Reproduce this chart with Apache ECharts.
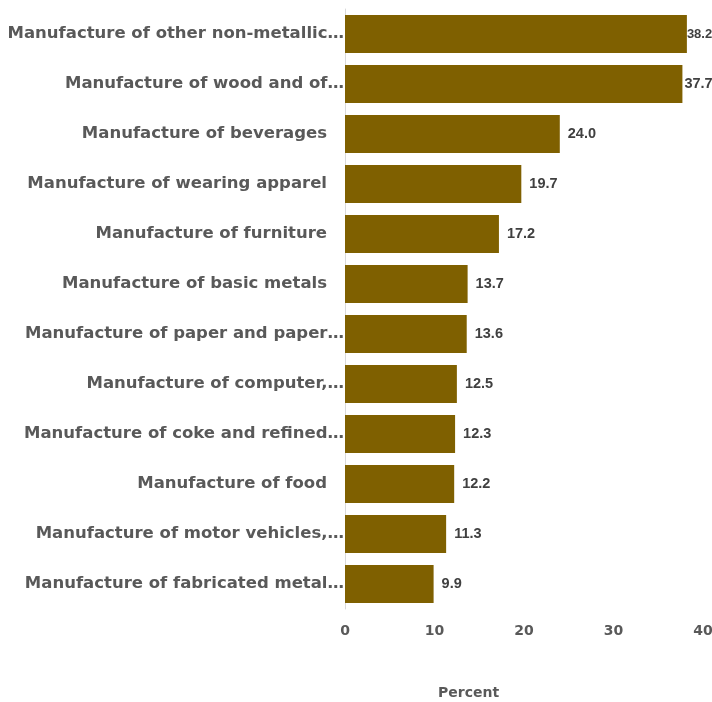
<!DOCTYPE html>
<html>
<head>
<meta charset="utf-8">
<script src="https://cdn.jsdelivr.net/npm/echarts@6/dist/echarts.min.js"></script>
<style>
  html, body { margin: 0; padding: 0; background: #fff; }
  #chart { width: 712px; height: 702px; }
</style>
</head>
<body>
<div id="chart"></div>
<script>
// categories top to bottom, as shown (Excel truncated the long ones)
const categories = [
  'Manufacture of other non-metallic…',
  'Manufacture of wood and of…',
  'Manufacture of beverages ',
  'Manufacture of wearing apparel ',
  'Manufacture of furniture ',
  'Manufacture of basic metals ',
  'Manufacture of paper and paper…',
  'Manufacture of computer,…',
  'Manufacture of coke and refined…',
  'Manufacture of food ',
  'Manufacture of motor vehicles,…',
  'Manufacture of fabricated metal…'
]
const values = [38.2, 37.7, 24.0, 19.7, 17.2, 13.7, 13.6, 12.5, 12.3, 12.2, 11.3, 9.9]
const xTicks = [0, 10, 20, 30, 40]

const font = 'DejaVu Sans'
const labelStyle = {
  color: '#595959',
  fontFamily: font,
  fontWeight: 'bold',
  fontSize: 16.5
}
const chart = echarts.init(document.getElementById('chart'))

// the two longest bars get their labels squeezed against the chart edge, like excel
const barData = values.map(v => {
  if (v > 38) return { value: v, label: { distance: 0, fontSize: 13 } }
  if (v > 37) return { value: v, label: { distance: 2, fontSize: 14.5 } }
  return v
})

const option = {
  animation: false,
  grid: { left: 345, right: 9, top: 9, bottom: 93, containLabel: false, outerBoundsMode: 'none' },
  xAxis: {
    type: 'value',
    min: xTicks[0],
    max: xTicks[xTicks.length - 1],
    interval: 10,
    axisLine: { show: false },
    axisTick: { show: false },
    splitLine: { show: false },
    axisLabel: {
      color: '#595959',
      fontFamily: font,
      fontWeight: 'bold',
      fontSize: 14,
      margin: 15
    }
  },
  yAxis: {
    type: 'category',
    inverse: true,
    data: categories,
    axisLine: { show: true, lineStyle: { color: '#d9d9d9', width: 1 } },
    axisTick: { show: false },
    axisLabel: Object.assign({}, labelStyle, {
      margin: 1,
      // untruncated names keep a trailing gap
      formatter: v => v.endsWith(' ') ? '{p|' + v.trim() + '}' : v,
      rich: { p: Object.assign({}, labelStyle, { padding: [0, 17, 0, 0] }) }
    })
  },
  graphic: [{
    type: 'text',
    left: 438,
    top: 686,
    style: {
      text: 'Percent',
      fill: '#595959',
      font: 'bold 14px ' + font
    }
  }],
  series: [{
    type: 'bar',
    data: barData,
    barCategoryGap: '24%',
    itemStyle: { color: '#7f6000' },
    label: {
      show: true,
      position: 'right',
      distance: 8,
      color: '#404040',
      fontFamily: 'Liberation Sans',
      fontWeight: 'bold',
      fontSize: 14.5,
      formatter: p => p.value.toFixed(1)
    }
  }]
}
chart.setOption(option)
</script>
</body>
</html>
